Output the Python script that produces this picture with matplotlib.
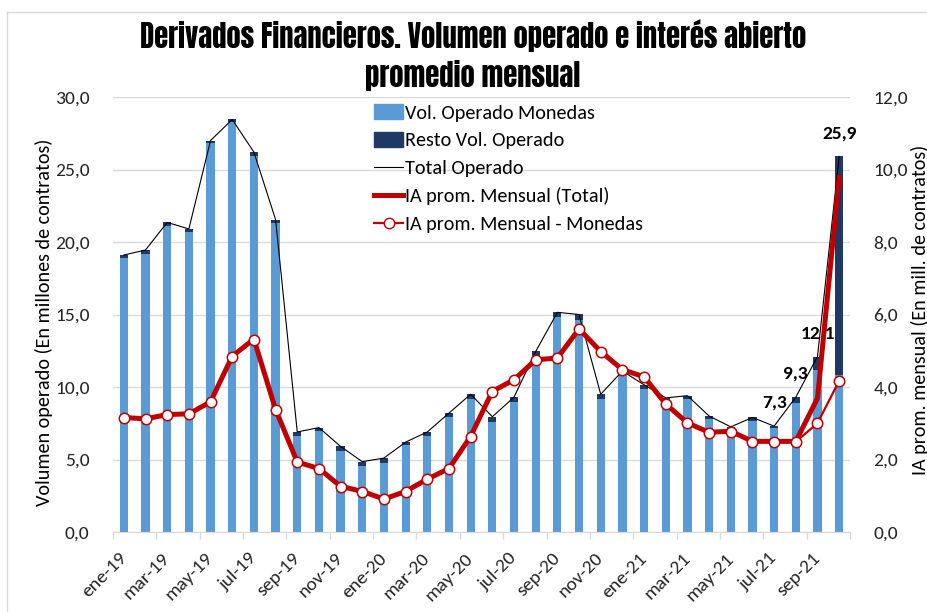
import matplotlib
matplotlib.use('Agg')
import matplotlib.pyplot as plt
from matplotlib import font_manager
from matplotlib.patches import Patch
from matplotlib.lines import Line2D
import numpy as np

# meses de ene-19 a oct-21
meses = ['ene', 'feb', 'mar', 'abr', 'may', 'jun', 'jul', 'ago', 'sep', 'oct', 'nov', 'dic']
periodos = [m + '-' + a for a in ('19', '20', '21') for m in meses][:34]

# volumen operado (millones de contratos)
vol_total = [19.1, 19.45, 21.35, 20.9, 27.0, 28.45, 26.2, 21.55, 6.9, 7.2, 5.9, 4.85,
             5.1, 6.2, 6.9, 8.2, 9.5, 7.95, 9.3, 12.45, 15.15, 15.0, 9.5, 11.1,
             10.15, 9.25, 9.4, 8.0, 7.25, 7.9, 7.3, 9.3, 12.1, 25.9]
vol_monedas = [18.9, 19.2, 21.1, 20.7, 26.8, 28.25, 25.95, 21.3, 6.65, 7.0, 5.6, 4.55,
               4.75, 6.0, 6.6, 7.95, 9.2, 7.6, 9.0, 12.15, 14.85, 14.65, 9.2, 10.85,
               9.85, 9.0, 9.15, 7.8, 7.0, 7.65, 7.15, 8.9, 11.15, 10.8]

# interes abierto promedio mensual (millones de contratos)
ia_total = [3.16, 3.12, 3.24, 3.26, 3.59, 4.85, 5.32, 3.38, 1.93, 1.75, 1.26, 1.12,
            0.91, 1.12, 1.46, 1.75, 2.64, 3.88, 4.2, 4.75, 4.8, 5.6, 4.98, 4.48,
            4.28, 3.53, 3.01, 2.75, 2.78, 2.5, 2.5, 2.5, 3.69, 9.78]
ia_monedas = [3.15, 3.11, 3.23, 3.25, 3.58, 4.84, 5.31, 3.37, 1.92, 1.74, 1.25, 1.11,
              0.90, 1.11, 1.45, 1.74, 2.63, 3.87, 4.19, 4.74, 4.79, 5.59, 4.97, 4.47,
              4.27, 3.52, 3.0, 2.74, 2.77, 2.49, 2.49, 2.49, 3.0, 4.17]

# meses con etiqueta de total
idx_etiquetas = [30, 31, 32, 33]


def pick_font(opciones):
    nombres = {f.name for f in font_manager.fontManager.ttflist}
    for o in opciones:
        if o in nombres:
            return o
    return 'DejaVu Sans'


fuente = pick_font(['Carlito', 'Lato', 'DejaVu Sans'])
fuente_titulo = pick_font(['Anton', 'Oswald', 'Roboto Condensed', 'Archivo Narrow',
                           'Liberation Sans Narrow', 'DejaVu Sans'])
plt.rcParams['font.family'] = [fuente, 'DejaVu Sans']

azul = '#5B9BD5'
marino = '#203864'
rojo = '#C00000'
gris = '#D9D9D9'
texto = '#262626'
fs = 14

fig = plt.figure(figsize=(9.28, 6.12), dpi=100)
W, H = 928, 612
ax = fig.add_axes([113 / W, 1 - 532 / H, (850 - 113) / W, (532 - 97) / H])
ax2 = ax.twinx()

x = np.arange(len(periodos))
resto = np.array(vol_total) - np.array(vol_monedas)

ax.set_axisbelow(True)
ax.yaxis.grid(True, color=gris, linewidth=1)
ax.bar(x, vol_monedas, width=0.38, color=azul, zorder=2)
ax.bar(x, resto, width=0.38, bottom=vol_monedas, color=marino, zorder=2)
ax.plot(x, vol_total, color='black', linewidth=0.8, zorder=3)

for i in idx_etiquetas:
    ax.annotate(f'{vol_total[i]:.1f}'.replace('.', ','), (x[i], vol_total[i]),
                xytext=(0, 11), textcoords='offset points', ha='center', va='bottom',
                fontsize=fs, fontweight='bold', color='black', zorder=5)

ax2.plot(x, ia_total, color=rojo, linewidth=3.6, zorder=3)
ax2.plot(x, ia_monedas, color=rojo, linewidth=1.6, marker='o', markersize=7.5,
         markerfacecolor='white', markeredgecolor=rojo, markeredgewidth=1.1, zorder=4)

ax.set_xlim(-0.5, len(periodos) - 0.5)
ax.set_ylim(0, 30)
ax2.set_ylim(0, 12)
ax.set_yticks(np.arange(0, 31, 5))
ax2.set_yticks(np.arange(0, 13, 2))
ax.set_yticklabels([f'{v:.1f}'.replace('.', ',') for v in np.arange(0, 31, 5)])
ax2.set_yticklabels([f'{v:.1f}'.replace('.', ',') for v in np.arange(0, 13, 2)])

ax.set_xticks(x[::2])
ax.set_xticklabels(periodos[::2], rotation=45, ha='right', va='center',
                   rotation_mode='anchor')
ax.set_xticks(np.arange(-0.5, len(periodos), 2), minor=True)
ax.tick_params(axis='x', which='major', length=0, pad=17, labelsize=fs, labelcolor=texto)
ax.tick_params(axis='x', which='minor', length=5, color=gris, width=1)
ax.tick_params(axis='y', length=0, pad=17, labelsize=fs, labelcolor=texto)
ax2.tick_params(axis='y', length=0, pad=17, labelsize=fs, labelcolor=texto)

for a in (ax, ax2):
    for s in ('top', 'left', 'right'):
        a.spines[s].set_visible(False)
    a.spines['bottom'].set_color(gris)

fig.text(44 / W, 1 - 322 / H, 'Volumen operado (En millones de contratos)', rotation=90,
         ha='center', va='center', fontsize=14.5, color='black')
fig.text(920 / W, 1 - 310 / H, 'IA prom. mensual (En mill. de contratos)', rotation=90,
         ha='center', va='center', fontsize=14.5, color='black')

fig.text(473 / W, 1 - 55 / H, 'Derivados Financieros. Volumen operado e interés abierto\npromedio mensual',
         ha='center', va='center', fontsize=20.6, linespacing=1.32,
         family=[fuente_titulo, 'DejaVu Sans'], color='black')

# marco de la figura
fig.add_artist(Line2D([7 / W, 7 / W], [0, 1 - 12 / H], transform=fig.transFigure, color=gris, linewidth=1))
fig.add_artist(Line2D([7 / W, 1], [1 - 12 / H, 1 - 12 / H], transform=fig.transFigure, color=gris, linewidth=1))

handles = [
    Patch(color=azul),
    Patch(color=marino),
    Line2D([], [], color='black', linewidth=0.8),
    Line2D([], [], color=rojo, linewidth=3.6),
    Line2D([], [], color=rojo, linewidth=1.6, marker='o', markersize=7.5,
           markerfacecolor='white', markeredgecolor=rojo),
]
etiquetas = ['Vol. Operado Monedas', 'Resto Vol. Operado', 'Total Operado',
             'IA prom. Mensual (Total)', 'IA prom. Mensual - Monedas']
fig.legend(handles, etiquetas, loc='upper left', bbox_to_anchor=(374 / W, 1 - 104 / H),
           frameon=False, fontsize=14.5, handlelength=1.45, handleheight=0.8,
           handletextpad=0.1, labelspacing=0.5, borderpad=0, borderaxespad=0)

fig.savefig('out.png', dpi=100)
